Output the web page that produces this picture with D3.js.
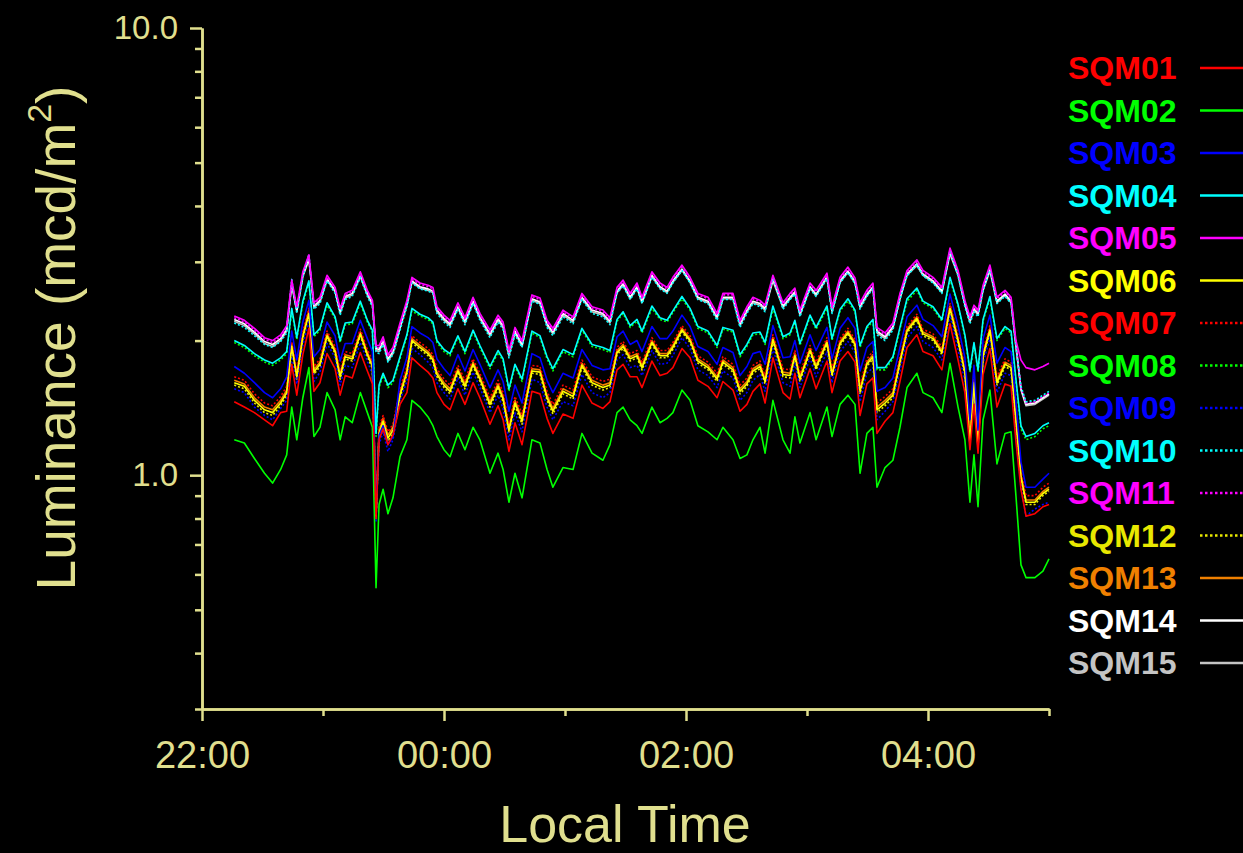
<!DOCTYPE html>
<html>
<head>
<meta charset="utf-8">
<script src="https://cdn.jsdelivr.net/npm/d3@7"></script>
<style>
  html, body { margin: 0; padding: 0; background: #000; }
  svg { display: block; }
</style>
</head>
<body>
<div id="chart"></div>
<script>
// Sky luminance from 15 SQM meters over one night
// times are minutes after 22:00 local time

const minutes = [16,21,26,31,35,39,42,44.5,47,50,53,55.5,58.5,
  62,66,68.5,71,74.5,78.5,82,84.5,86.3,87.8,89.8,92.2,94.7,
  98.2,101.6,104.1,108.1,112.1,114.5,116.5,120,123,126.9,130.4,134.4,137.8,
  142.8,146.8,149.3,152.2,155.2,158.7,163.6,167.6,171.1,174,179,184,188.4,
  193.4,198.8,202.3,205.8,208.8,212.3,215.7,218.2,223.1,227.1,230.6,233.5,238,
  242,245.9,250.9,255.4,258.3,263.3,266.8,270.2,273.2,276.7,279.2,283.1,288.1,
  291.6,294,296.5,301.5,304.5,309.9,312.4,316.4,320.3,323.8,326.3,329.7,332.7,
  334.7,338.7,342.6,346.1,349.6,354.5,357.5,362.5,366.9,370.9,374.9,378.3,380.8,
  382.8,384.8,387.3,390.7,394.2,398.2,401.2,403.6,406.1,408.6,413,417,420]

const sqm01 = [1.46,1.42,1.38,1.33,1.29,1.38,1.39,1.77,1.51,1.86,2.13,1.54,1.61,
  1.87,1.73,1.51,1.67,1.65,1.88,1.71,1.60,0.80,1.20,1.27,1.17,1.23,
  1.44,1.53,1.83,1.76,1.70,1.65,1.53,1.44,1.40,1.56,1.44,1.61,1.49,
  1.30,1.43,1.33,1.13,1.31,1.17,1.54,1.52,1.34,1.24,1.37,1.34,1.59,
  1.45,1.41,1.46,1.72,1.77,1.66,1.66,1.57,1.80,1.67,1.69,1.74,1.92,
  1.83,1.63,1.58,1.49,1.62,1.55,1.39,1.44,1.54,1.60,1.45,1.83,1.53,
  1.48,1.69,1.49,1.73,1.56,1.80,1.53,1.80,1.89,1.79,1.36,1.60,1.65,
  1.24,1.32,1.38,1.62,1.93,2.06,1.89,1.85,1.72,2.18,1.81,1.53,1.14,
  1.44,1.12,1.68,1.92,1.42,1.60,1.58,1.19,0.93,0.81,0.82,0.85,0.86]

const sqm02 = [1.20,1.18,1.09,1.01,0.96,1.03,1.11,1.42,1.20,1.49,1.74,1.22,1.28,
  1.53,1.40,1.20,1.35,1.31,1.53,1.38,1.28,0.56,0.86,0.93,0.82,0.89,
  1.10,1.20,1.47,1.42,1.35,1.29,1.22,1.14,1.10,1.24,1.14,1.28,1.20,
  1.01,1.12,1.03,0.87,1.01,0.89,1.20,1.18,1.03,0.94,1.04,1.03,1.24,
  1.12,1.08,1.17,1.38,1.42,1.33,1.29,1.24,1.42,1.31,1.34,1.38,1.55,
  1.47,1.29,1.25,1.20,1.28,1.20,1.09,1.11,1.20,1.28,1.12,1.47,1.20,
  1.12,1.35,1.18,1.38,1.20,1.42,1.22,1.44,1.51,1.44,1.01,1.24,1.28,
  0.94,1.04,1.08,1.28,1.57,1.69,1.53,1.49,1.38,1.78,1.42,1.20,0.87,
  1.11,0.85,1.33,1.55,1.06,1.24,1.25,0.90,0.63,0.59,0.59,0.61,0.65]

const sqm03 = [1.75,1.69,1.61,1.53,1.49,1.56,1.66,2.10,1.81,2.20,2.46,1.84,1.91,
  2.20,2.05,1.80,1.97,1.97,2.22,2.02,1.89,0.82,1.23,1.29,1.17,1.22,
  1.63,1.83,2.15,2.08,2.03,1.98,1.82,1.73,1.67,1.86,1.71,1.91,1.77,
  1.57,1.72,1.62,1.39,1.59,1.45,1.87,1.83,1.63,1.53,1.69,1.65,1.91,
  1.76,1.72,1.73,2.04,2.10,1.96,2.00,1.89,2.15,2.02,2.02,2.10,2.28,
  2.15,1.94,1.89,1.77,1.93,1.88,1.67,1.75,1.87,1.89,1.77,2.16,1.83,
  1.84,2.00,1.78,2.06,1.90,2.14,1.82,2.13,2.25,2.13,1.71,1.93,1.99,
  1.54,1.57,1.65,1.93,2.26,2.40,2.23,2.16,2.04,2.54,2.16,1.83,1.33,
  1.76,1.26,2.02,2.28,1.78,1.93,1.89,1.46,1.07,0.94,0.94,0.98,1.01]

const sqm04 = [2.00,1.95,1.87,1.81,1.78,1.83,1.89,2.36,2.03,2.45,2.72,2.06,2.13,
  2.43,2.26,2.00,2.19,2.20,2.45,2.22,2.11,1.24,1.59,1.69,1.59,1.63,
  1.84,2.06,2.36,2.29,2.25,2.20,2.00,1.91,1.87,2.05,1.89,2.11,1.95,
  1.75,1.90,1.82,1.56,1.77,1.64,2.10,2.05,1.84,1.73,1.91,1.86,2.13,
  1.96,1.93,1.90,2.23,2.32,2.16,2.23,2.10,2.39,2.25,2.22,2.33,2.51,
  2.36,2.15,2.10,1.95,2.14,2.11,1.86,1.96,2.08,2.09,1.98,2.39,2.04,
  2.08,2.22,1.97,2.28,2.14,2.39,2.02,2.35,2.48,2.34,1.95,2.15,2.23,
  1.74,1.74,1.84,2.14,2.48,2.62,2.45,2.38,2.23,2.77,2.41,2.06,1.72,
  1.98,1.72,2.23,2.51,2.02,2.15,2.10,1.64,1.29,1.22,1.24,1.29,1.31]

const sqm05 = [2.27,2.22,2.13,2.03,2.00,2.06,2.16,2.73,2.38,2.85,3.11,2.43,2.50,
  2.80,2.63,2.36,2.55,2.59,2.85,2.59,2.46,1.95,1.95,2.04,1.86,1.93,
  2.19,2.46,2.77,2.69,2.66,2.63,2.38,2.28,2.22,2.43,2.25,2.50,2.30,
  2.11,2.28,2.20,1.90,2.14,2.00,2.53,2.49,2.22,2.13,2.34,2.26,2.55,
  2.38,2.34,2.25,2.63,2.73,2.55,2.69,2.50,2.85,2.69,2.63,2.77,2.95,
  2.77,2.55,2.50,2.30,2.55,2.55,2.22,2.38,2.50,2.46,2.40,2.80,2.43,
  2.55,2.62,2.34,2.69,2.59,2.83,2.38,2.77,2.92,2.76,2.43,2.59,2.69,
  2.14,2.08,2.19,2.55,2.87,3.03,2.87,2.77,2.63,3.22,2.87,2.46,2.26,
  2.40,2.34,2.66,2.95,2.50,2.59,2.50,2.00,1.81,1.74,1.72,1.75,1.78]

const sqm06 = [1.61,1.58,1.47,1.40,1.38,1.45,1.53,1.94,1.66,2.04,2.30,1.70,1.77,
  2.05,1.89,1.66,1.84,1.82,2.07,1.86,1.75,0.81,1.24,1.32,1.21,1.26,
  1.51,1.70,2.00,1.93,1.87,1.81,1.68,1.59,1.54,1.71,1.58,1.77,1.64,
  1.44,1.58,1.48,1.26,1.45,1.32,1.71,1.70,1.49,1.39,1.54,1.50,1.76,
  1.61,1.57,1.59,1.88,1.94,1.82,1.85,1.74,1.98,1.85,1.85,1.93,2.11,
  2.00,1.80,1.74,1.64,1.79,1.72,1.54,1.60,1.71,1.75,1.62,2.01,1.68,
  1.67,1.85,1.64,1.90,1.74,1.98,1.68,1.97,2.08,1.96,1.54,1.77,1.84,
  1.40,1.45,1.51,1.79,2.10,2.24,2.07,2.02,1.88,2.36,2.00,1.70,1.18,
  1.61,1.16,1.85,2.11,1.61,1.77,1.74,1.32,0.99,0.87,0.87,0.91,0.93]

const sqm07 = [1.66,1.63,1.52,1.45,1.43,1.50,1.58,1.99,1.71,2.09,2.36,1.75,1.82,
  2.10,1.94,1.71,1.89,1.87,2.12,1.91,1.80,0.83,1.28,1.36,1.25,1.30,
  1.56,1.75,2.05,1.98,1.92,1.86,1.73,1.64,1.59,1.76,1.63,1.82,1.69,
  1.49,1.63,1.53,1.30,1.50,1.37,1.76,1.75,1.54,1.44,1.59,1.55,1.81,
  1.66,1.62,1.64,1.93,1.99,1.87,1.90,1.79,2.03,1.90,1.90,1.98,2.16,
  2.05,1.85,1.79,1.69,1.84,1.77,1.59,1.65,1.76,1.80,1.67,2.06,1.73,
  1.72,1.90,1.69,1.95,1.79,2.03,1.73,2.02,2.13,2.01,1.59,1.82,1.89,
  1.45,1.50,1.56,1.84,2.15,2.29,2.12,2.07,1.93,2.42,2.05,1.75,1.22,
  1.66,1.19,1.90,2.16,1.66,1.82,1.79,1.37,1.02,0.90,0.90,0.94,0.96]

const sqm08 = [1.98,1.93,1.85,1.79,1.76,1.81,1.87,2.33,2.01,2.42,2.69,2.04,2.11,
  2.40,2.24,1.98,2.17,2.18,2.42,2.20,2.09,1.22,1.57,1.67,1.57,1.61,
  1.82,2.04,2.33,2.27,2.23,2.18,1.98,1.89,1.85,2.03,1.87,2.09,1.93,
  1.73,1.88,1.80,1.54,1.75,1.62,2.08,2.03,1.82,1.71,1.89,1.84,2.11,
  1.94,1.91,1.88,2.21,2.30,2.14,2.21,2.08,2.36,2.23,2.20,2.31,2.48,
  2.34,2.13,2.08,1.93,2.12,2.09,1.84,1.94,2.06,2.07,1.96,2.36,2.02,
  2.06,2.20,1.95,2.26,2.12,2.36,2.00,2.33,2.45,2.32,1.93,2.13,2.21,
  1.72,1.72,1.82,2.12,2.45,2.59,2.43,2.36,2.21,2.74,2.39,2.04,1.70,
  1.96,1.70,2.21,2.48,2.00,2.13,2.08,1.62,1.27,1.20,1.22,1.27,1.29]

const sqm09 = [1.56,1.53,1.42,1.36,1.33,1.41,1.47,1.86,1.60,1.95,2.22,1.62,1.70,
  1.97,1.83,1.59,1.76,1.74,1.98,1.80,1.68,0.79,1.17,1.25,1.13,1.20,
  1.47,1.62,1.92,1.86,1.79,1.74,1.61,1.53,1.48,1.65,1.51,1.70,1.57,
  1.38,1.51,1.41,1.20,1.38,1.25,1.64,1.61,1.42,1.33,1.46,1.43,1.68,
  1.53,1.49,1.53,1.81,1.86,1.74,1.76,1.67,1.90,1.77,1.78,1.85,2.03,
  1.92,1.72,1.67,1.57,1.71,1.65,1.47,1.53,1.63,1.68,1.54,1.92,1.61,
  1.58,1.78,1.57,1.83,1.66,1.89,1.61,1.89,1.99,1.88,1.46,1.69,1.74,
  1.33,1.39,1.46,1.71,2.03,2.15,1.99,1.93,1.81,2.28,1.91,1.62,1.17,
  1.53,1.14,1.78,2.03,1.53,1.69,1.67,1.26,0.94,0.81,0.84,0.86,0.87]

const sqm10 = [2.19,2.14,2.05,1.96,1.93,1.99,2.08,2.74,2.30,2.77,3.12,2.35,2.42,
  2.72,2.55,2.28,2.47,2.51,2.77,2.51,2.38,1.88,1.87,1.96,1.79,1.86,
  2.11,2.38,2.69,2.61,2.58,2.55,2.30,2.20,2.14,2.35,2.17,2.42,2.22,
  2.03,2.20,2.12,1.83,2.06,1.93,2.45,2.41,2.14,2.05,2.26,2.18,2.47,
  2.30,2.26,2.17,2.55,2.65,2.47,2.61,2.42,2.77,2.61,2.55,2.69,2.87,
  2.69,2.47,2.42,2.22,2.47,2.47,2.14,2.30,2.42,2.38,2.32,2.78,2.35,
  2.47,2.54,2.26,2.61,2.51,2.75,2.30,2.69,2.84,2.68,2.35,2.51,2.61,
  2.06,2.00,2.11,2.47,2.79,2.95,2.79,2.69,2.55,3.18,2.79,2.38,2.18,
  2.32,2.26,2.58,2.90,2.42,2.51,2.42,1.93,1.58,1.46,1.47,1.51,1.54]

const sqm11 = [2.25,2.20,2.11,2.01,1.98,2.04,2.14,2.70,2.36,2.82,3.08,2.41,2.48,
  2.77,2.61,2.34,2.53,2.57,2.82,2.57,2.44,1.93,1.93,2.02,1.84,1.91,
  2.17,2.44,2.74,2.67,2.64,2.61,2.36,2.26,2.20,2.41,2.23,2.48,2.28,
  2.09,2.26,2.18,1.88,2.12,1.98,2.51,2.47,2.20,2.11,2.32,2.24,2.53,
  2.36,2.32,2.23,2.61,2.71,2.53,2.67,2.48,2.82,2.67,2.61,2.75,2.92,
  2.75,2.53,2.48,2.28,2.53,2.53,2.20,2.36,2.48,2.44,2.38,2.77,2.41,
  2.53,2.60,2.32,2.67,2.57,2.80,2.36,2.75,2.89,2.74,2.41,2.57,2.67,
  2.12,2.06,2.17,2.53,2.84,3.00,2.84,2.75,2.61,3.18,2.84,2.44,2.24,
  2.38,2.32,2.64,2.92,2.48,2.57,2.48,1.98,1.57,1.45,1.46,1.50,1.53]

const sqm12 = [1.59,1.56,1.45,1.38,1.36,1.43,1.51,1.92,1.64,2.02,2.28,1.68,1.75,
  2.03,1.87,1.64,1.82,1.80,2.05,1.84,1.73,0.80,1.22,1.30,1.19,1.24,
  1.49,1.68,1.98,1.91,1.85,1.79,1.66,1.57,1.52,1.69,1.56,1.75,1.62,
  1.42,1.56,1.46,1.25,1.43,1.30,1.69,1.68,1.47,1.37,1.52,1.48,1.74,
  1.59,1.55,1.57,1.86,1.92,1.80,1.83,1.72,1.96,1.83,1.83,1.91,2.09,
  1.98,1.78,1.72,1.62,1.77,1.70,1.52,1.58,1.69,1.73,1.60,1.99,1.66,
  1.65,1.83,1.62,1.88,1.72,1.96,1.66,1.95,2.06,1.94,1.52,1.75,1.82,
  1.38,1.43,1.49,1.77,2.08,2.22,2.05,2.00,1.86,2.34,1.98,1.68,1.17,
  1.59,1.15,1.83,2.09,1.59,1.75,1.72,1.30,0.98,0.86,0.86,0.90,0.92]

const sqm13 = [1.63,1.60,1.49,1.42,1.40,1.47,1.55,1.96,1.68,2.06,2.33,1.72,1.79,
  2.07,1.91,1.68,1.86,1.84,2.09,1.88,1.77,0.82,1.26,1.34,1.23,1.28,
  1.53,1.72,2.02,1.95,1.89,1.83,1.70,1.61,1.56,1.73,1.60,1.79,1.66,
  1.46,1.60,1.50,1.28,1.47,1.34,1.73,1.72,1.51,1.41,1.56,1.52,1.78,
  1.63,1.59,1.61,1.90,1.96,1.84,1.87,1.76,2.00,1.87,1.87,1.95,2.13,
  2.02,1.82,1.76,1.66,1.81,1.74,1.56,1.62,1.73,1.77,1.64,2.03,1.70,
  1.69,1.87,1.66,1.92,1.76,2.00,1.70,1.99,2.10,1.98,1.56,1.79,1.86,
  1.42,1.47,1.53,1.81,2.12,2.26,2.09,2.04,1.90,2.39,2.02,1.72,1.20,
  1.63,1.17,1.87,2.13,1.63,1.79,1.76,1.34,1.00,0.88,0.88,0.92,0.94]

const sqm14 = [2.23,2.18,2.09,1.99,1.96,2.02,2.12,2.68,2.34,2.80,3.05,2.39,2.46,
  2.75,2.59,2.32,2.51,2.55,2.80,2.55,2.42,1.92,1.91,2.00,1.82,1.89,
  2.15,2.42,2.72,2.64,2.61,2.58,2.34,2.24,2.18,2.38,2.21,2.45,2.26,
  2.07,2.24,2.16,1.87,2.10,1.96,2.48,2.44,2.18,2.09,2.30,2.22,2.50,
  2.34,2.30,2.21,2.58,2.68,2.50,2.64,2.45,2.80,2.64,2.58,2.72,2.89,
  2.72,2.50,2.45,2.26,2.50,2.50,2.18,2.34,2.45,2.42,2.36,2.75,2.39,
  2.50,2.57,2.30,2.64,2.54,2.78,2.34,2.72,2.86,2.71,2.39,2.54,2.64,
  2.10,2.04,2.15,2.50,2.82,2.97,2.82,2.72,2.58,3.15,2.82,2.42,2.22,
  2.36,2.30,2.61,2.89,2.45,2.54,2.45,1.96,1.56,1.44,1.45,1.49,1.52]

const sqm15 = [2.21,2.16,2.07,1.97,1.94,2.00,2.10,2.66,2.32,2.78,3.03,2.37,2.44,
  2.73,2.57,2.30,2.49,2.53,2.78,2.53,2.40,1.90,1.89,1.98,1.80,1.87,
  2.13,2.40,2.70,2.62,2.59,2.56,2.32,2.22,2.16,2.36,2.19,2.43,2.24,
  2.05,2.22,2.14,1.85,2.08,1.94,2.46,2.42,2.16,2.07,2.28,2.20,2.48,
  2.32,2.28,2.19,2.56,2.66,2.48,2.62,2.43,2.78,2.62,2.56,2.70,2.87,
  2.70,2.48,2.43,2.24,2.48,2.48,2.16,2.32,2.43,2.40,2.34,2.72,2.37,
  2.48,2.55,2.28,2.62,2.52,2.76,2.32,2.70,2.84,2.69,2.37,2.52,2.62,
  2.08,2.02,2.13,2.48,2.80,2.94,2.80,2.70,2.56,3.12,2.80,2.40,2.20,
  2.34,2.28,2.59,2.86,2.43,2.52,2.43,1.94,1.55,1.43,1.44,1.48,1.51]

const seriesNames = ['SQM01', 'SQM02', 'SQM03', 'SQM04', 'SQM05', 'SQM06', 'SQM07', 'SQM08',
  'SQM09', 'SQM10', 'SQM11', 'SQM12', 'SQM13', 'SQM14', 'SQM15']
const seriesValues = [sqm01, sqm02, sqm03, sqm04, sqm05, sqm06, sqm07, sqm08,
  sqm09, sqm10, sqm11, sqm12, sqm13, sqm14, sqm15]
const seriesColors = ['#ff0000', '#00ff00', '#0000ff', '#00ffff', '#ff00ff', '#ffff00', '#ff0000', '#00ff00',
  '#0000ff', '#00ffff', '#ff00ff', '#e8e800', '#f08000', '#ffffff', '#c4c4c4']
const dottedNames = ['SQM07', 'SQM08', 'SQM09', 'SQM10', 'SQM11', 'SQM12']

const xTickMinutes = [0, 120, 240, 360]
const xTickLabels = ['22:00', '00:00', '02:00', '04:00']
const xMinorMinutes = [60, 180, 300, 420]
const yMajorTicks = [1, 10]
const yMinorTicks = [0.3, 0.4, 0.5, 0.6, 0.7, 0.8, 0.9, 2, 3, 4, 5, 6, 7, 8, 9]

const width = 1243
const height = 853
const axisColor = '#e0df8e'
const fontFamily = '"Liberation Sans", Arial, Helvetica, sans-serif'

const series = seriesNames.map((name, i) => ({
  name,
  values: seriesValues[i],
  color: seriesColors[i],
  dotted: dottedNames.includes(name)
}))

const svg = d3.select('#chart')
  .append('svg')
  .attr('width', width)
  .attr('height', height)
  .style('background', '#000')

const x = d3.scaleLinear().domain([0, 420]).range([202, 1049])
const y = d3.scaleLog().domain([0.3, 10]).range([709, 28])

function styleAxis(g, fontSize) {
  g.select('.domain').attr('stroke', axisColor).attr('stroke-width', 2.5)
  g.selectAll('.tick line').attr('stroke', axisColor).attr('stroke-width', 2.5)
  g.selectAll('.tick text')
    .attr('fill', axisColor)
    .attr('font-family', fontFamily)
    .attr('font-size', fontSize + 'px')
}

// data lines, drawn last series first so SQM01.. sit on top
const line = d3.line()
  .x((d, i) => x(minutes[i]))
  .y(d => y(d))

svg.append('g')
  .selectAll('path')
  .data(series.slice().reverse())
  .join('path')
  .attr('d', d => line(d.values))
  .attr('fill', 'none')
  .attr('stroke', d => d.color)
  .attr('stroke-width', 1.6)
  .attr('stroke-linejoin', 'round')
  .attr('stroke-dasharray', d => d.dotted ? '2,2' : null)

// y axis, log scale with minor ticks
svg.append('g')
  .attr('transform', `translate(${x.range()[0]},0)`)
  .call(d3.axisLeft(y).tickValues(yMinorTicks).tickFormat('').tickSize(7).tickSizeOuter(0))
  .call(g => styleAxis(g, 33))

svg.append('g')
  .attr('transform', `translate(${x.range()[0]},0)`)
  .call(d3.axisLeft(y).tickValues(yMajorTicks).tickFormat(d3.format('.1f')).tickSize(12).tickSizeOuter(0).tickPadding(12))
  .call(g => styleAxis(g, 33))

// x axis
svg.append('g')
  .attr('transform', `translate(0,${y.range()[0]})`)
  .call(d3.axisBottom(x).tickValues(xMinorMinutes).tickFormat('').tickSize(7).tickSizeOuter(0))
  .call(g => styleAxis(g, 38))

svg.append('g')
  .attr('transform', `translate(0,${y.range()[0]})`)
  .call(d3.axisBottom(x).tickValues(xTickMinutes).tickFormat((d, i) => xTickLabels[i]).tickSize(12).tickSizeOuter(0))
  .call(g => styleAxis(g, 38))
  .call(g => g.selectAll('.tick text').attr('y', 59).attr('dy', null))

// axis titles
svg.append('text')
  .attr('x', 625)
  .attr('y', 842)
  .attr('text-anchor', 'middle')
  .attr('fill', axisColor)
  .attr('font-family', fontFamily)
  .attr('font-size', '52px')
  .text('Local Time')

const yTitle = svg.append('text')
  .attr('transform', 'translate(75,338) rotate(-90)')
  .attr('text-anchor', 'middle')
  .attr('fill', axisColor)
  .attr('font-family', fontFamily)
  .attr('font-size', '55px')
yTitle.append('tspan').text('Luminance (mcd/m')
yTitle.append('tspan').attr('font-size', '34px').attr('dy', -24).text('2')
yTitle.append('tspan').attr('dy', 24).text(')')

// legend
const legend = svg.append('g')
  .selectAll('g')
  .data(series)
  .join('g')
  .attr('transform', (d, i) => `translate(1068,${79 + i * 42.5})`)

legend.append('text')
  .attr('fill', d => d.color)
  .attr('font-family', fontFamily)
  .attr('font-weight', 'bold')
  .attr('font-size', '32px')
  .text(d => d.name)

legend.append('line')
  .attr('x1', 132)
  .attr('x2', 190)
  .attr('y1', -11)
  .attr('y2', -11)
  .attr('stroke', d => d.color)
  .attr('stroke-width', 2.5)
  .attr('stroke-dasharray', d => d.dotted ? '2.5,2.5' : null)
</script>
</body>
</html>
